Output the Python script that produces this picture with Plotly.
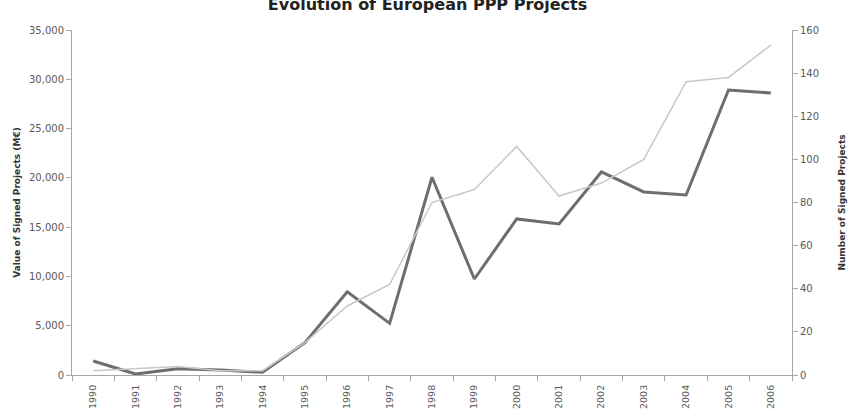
import plotly.graph_objects as go

years = [str(y) for y in range(1990, 2007)]
value_meur = [1420, 100, 640, 510, 270, 3280, 8450, 5240, 20060, 9740,
              15830, 15320, 20600, 18570, 18260, 28910, 28610]
num_projects = [2, 3, 4, 2, 2, 15, 32, 42, 80, 86,
                106, 83, 89, 100, 136, 138, 153]

FONT = "DejaVu Sans"
AX = "#a6a6a6"
TXT = "#595959"

fig = go.Figure()
fig.add_trace(go.Scatter(x=years, y=num_projects, mode="lines", yaxis="y2",
                         line=dict(color="#c8c8c8", width=1.5), name="Number"))
fig.add_trace(go.Scatter(x=years, y=value_meur, mode="lines", yaxis="y",
                         line=dict(color="#6e6e6e", width=3), name="Value"))

fig.update_layout(
    width=850, height=420,
    margin=dict(l=72, r=58, t=30, b=45),
    paper_bgcolor="white", plot_bgcolor="white",
    showlegend=False,
    font=dict(family=FONT, size=10, color=TXT),
    title=dict(text="<b>Evolution of European PPP Projects</b>",
               x=0.503, xanchor="center", y=1 - 4 / 420, yanchor="middle",
               yref="container", font=dict(family=FONT, size=16, color="#222")),
    xaxis=dict(type="category", range=[-0.5, 16.5], showline=True,
               linecolor=AX, linewidth=1, automargin=False,
               ticks="outside", tickson="boundaries", ticklen=5, tickcolor=AX,
               tickangle=-90, showgrid=False, zeroline=False,
               ticklabelstandoff=5,
               tickfont=dict(size=9.5, color=TXT)),
    yaxis=dict(range=[0, 35000], dtick=5000, tickformat=",", showline=True,
               linecolor=AX, ticks="outside", ticklen=5, tickcolor=AX,
               showgrid=False, zeroline=False, automargin=False,
               title=dict(text="<b>Value of Signed Projects (M€)</b>", standoff=6,
                          font=dict(size=9, color="#333"))),
    yaxis2=dict(range=[0, 160], dtick=20, overlaying="y", side="right",
                showline=True, linecolor=AX, ticks="outside", ticklen=5,
                tickcolor=AX, showgrid=False, zeroline=False, automargin=False,
                title=dict(text="<b>Number of Signed Projects</b>", standoff=20,
                           font=dict(size=9, color="#333"))),
)

fig.write_html("out.html")
